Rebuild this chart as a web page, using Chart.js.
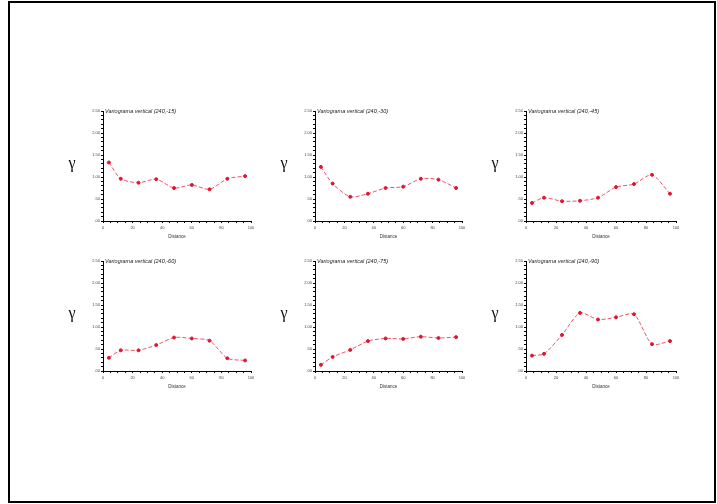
<!DOCTYPE html>
<html>
<head>
<meta charset="utf-8">
<script src="https://cdn.jsdelivr.net/npm/chart.js@4.4.0/dist/chart.umd.min.js"></script>
<style>
  body { margin: 0; background: #fff; }
  #frame { position: absolute; left: 8px; top: 1px; width: 708px; height: 502px; border: 2px solid #000; box-sizing: border-box; }
  .box { position: absolute; }
</style>
</head>
<body>
<div id="frame"></div>
<div class="box" id="b1" style="left:58px;top:96px;width:205px;height:155px"><canvas id="c1"></canvas></div>
<div class="box" id="b2" style="left:270px;top:96px;width:204px;height:155px"><canvas id="c2"></canvas></div>
<div class="box" id="b3" style="left:481px;top:96px;width:207px;height:155px"><canvas id="c3"></canvas></div>
<div class="box" id="b4" style="left:58px;top:246px;width:205px;height:155px"><canvas id="c4"></canvas></div>
<div class="box" id="b5" style="left:270px;top:246px;width:204px;height:155px"><canvas id="c5"></canvas></div>
<div class="box" id="b6" style="left:481px;top:246px;width:207px;height:155px"><canvas id="c6"></canvas></div>
<script>
// lag distances (same for all six directions)
const lags = [4, 12, 24, 36, 48, 60, 72, 84, 96];

const gamma15 = [1.33, 0.96, 0.87, 0.95, 0.75, 0.82, 0.72, 0.96, 1.02];
const gamma30 = [1.23, 0.85, 0.55, 0.62, 0.75, 0.78, 0.96, 0.94, 0.75];
const gamma45 = [0.41, 0.53, 0.45, 0.46, 0.53, 0.77, 0.84, 1.05, 0.62];
const gamma60 = [0.30, 0.47, 0.47, 0.59, 0.76, 0.74, 0.69, 0.29, 0.24];
const gamma75 = [0.14, 0.32, 0.48, 0.68, 0.74, 0.73, 0.78, 0.75, 0.77];
const gamma90 = [0.35, 0.39, 0.82, 1.32, 1.17, 1.22, 1.29, 0.61, 0.68];

const titles = [
    'Variograma vertical (240,-15)',
    'Variograma vertical (240,-30)',
    'Variograma vertical (240,-45)',
    'Variograma vertical (240,-60)',
    'Variograma vertical (240,-75)',
    'Variograma vertical (240,-90)'
];

const yTickLabels = ['.00', '.50', '1.00', '1.50', '2.00', '2.50'];
const xTickLabels = ['0', '20', '40', '60', '80', '100'];
const xTitle = 'Distance';
const yTitle = 'γ';

// titulo y simbolo gamma dibujados sobre el canvas
const variogramLabels = {
    id: 'variogramLabels',
    afterDraw(chart, args, opts) {
        const ctx = chart.ctx;
        const area = chart.chartArea;
        ctx.save();
        ctx.fillStyle = '#222';
        ctx.font = 'italic 5.5px "Liberation Sans", Arial, sans-serif';
        ctx.textBaseline = 'middle';
        ctx.textAlign = 'left';
        ctx.fillText(opts.title, area.left + 2, area.top);
        ctx.fillStyle = '#111';
        ctx.font = '16px "Liberation Serif", "DejaVu Serif", serif';
        ctx.textAlign = 'center';
        ctx.fillText(yTitle, area.left - 31, area.top + 53);
        ctx.restore();
    }
};

function createVariogram(canvasId, values, title) {
    const points = lags.map((d, i) => ({ x: d, y: values[i] }));
    new Chart(document.getElementById(canvasId), {
        type: 'line',
        data: {
            datasets: [{
                data: points,
                borderColor: 'rgba(232, 70, 90, 0.9)',
                borderWidth: 1,
                borderDash: [4, 2],
                pointBackgroundColor: '#e01530',
                pointBorderColor: '#e01530',
                pointRadius: 1.5,
                tension: 0.25,
                fill: false
            }]
        },
        options: {
            responsive: true,
            maintainAspectRatio: false,
            animation: false,
            layout: { padding: { top: 15, right: 12, left: 0, bottom: 12 } },
            plugins: {
                legend: { display: false },
                tooltip: { enabled: false },
                variogramLabels: { title: title }
            },
            scales: {
                x: {
                    type: 'linear',
                    min: 0,
                    max: 100,
                    afterFit: (scale) => { scale.height = 18; },
                    border: { color: '#000', width: 1 },
                    grid: { drawOnChartArea: false, tickLength: 2, tickColor: '#000' },
                    ticks: {
                        stepSize: 5,
                        autoSkip: false,
                        maxRotation: 0,
                        padding: 2,
                        color: '#444',
                        font: { size: 4, family: 'Arial, sans-serif' },
                        callback: (v) => (v % 20 === 0 ? xTickLabels[v / 20] : '')
                    },
                    title: {
                        display: true,
                        text: xTitle,
                        color: '#333',
                        padding: { top: 3, bottom: 0 },
                        font: { size: 4.5, family: 'Arial, sans-serif' }
                    }
                },
                y: {
                    min: 0,
                    max: 2.5,
                    afterFit: (scale) => { scale.width = 45; },
                    border: { color: '#000', width: 1 },
                    grid: { drawOnChartArea: false, tickLength: 2, tickColor: '#000' },
                    ticks: {
                        stepSize: 0.1,
                        autoSkip: false,
                        padding: 1,
                        color: '#444',
                        font: { size: 4, family: 'Arial, sans-serif' },
                        callback: (v) => {
                            const k = Math.round(v * 10);
                            return k % 5 === 0 ? yTickLabels[k / 5] : '';
                        }
                    }
                }
            }
        },
        plugins: [variogramLabels]
    });
}

createVariogram('c1', gamma15, titles[0]);
createVariogram('c2', gamma30, titles[1]);
createVariogram('c3', gamma45, titles[2]);
createVariogram('c4', gamma60, titles[3]);
createVariogram('c5', gamma75, titles[4]);
createVariogram('c6', gamma90, titles[5]);
</script>
</body>
</html>
